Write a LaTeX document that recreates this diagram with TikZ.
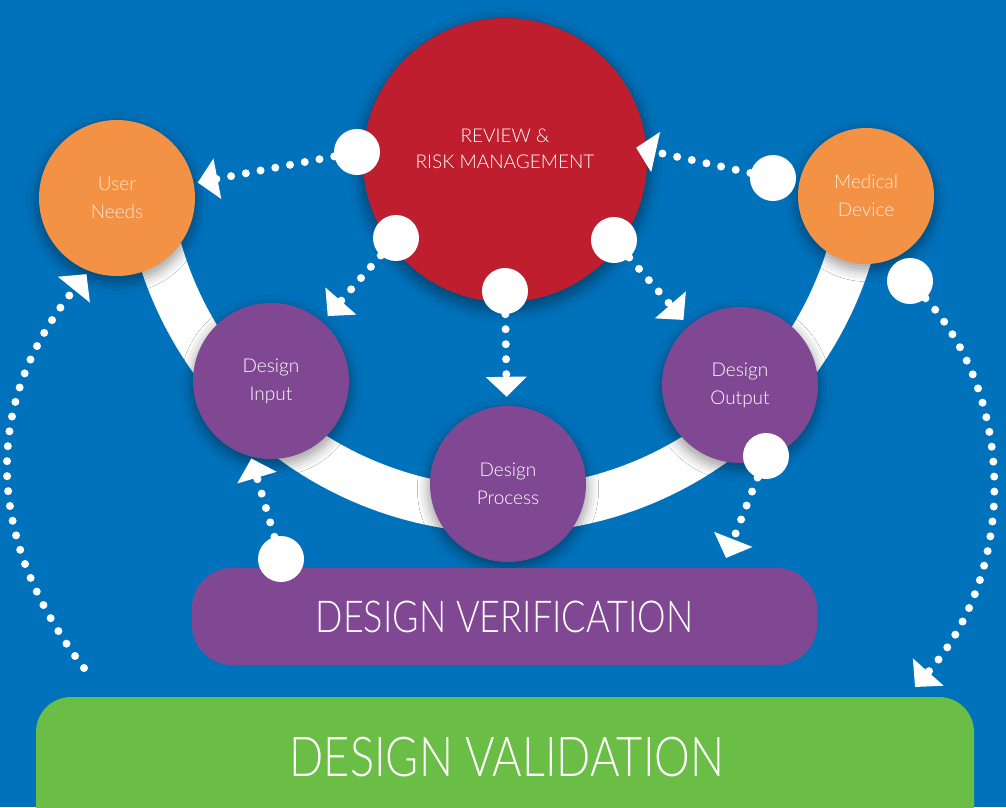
\documentclass[tikz,border=0pt]{standalone}
\usepackage{fontspec}
\setmainfont{Lato Light}
\newfontfamily\boxfont{Lato Light}[FakeStretch=0.82]
\usetikzlibrary{arrows.meta,shadows.blur}
\definecolor{BackClr}{RGB}{0,114,188}
\definecolor{ReviewClr}{RGB}{190,30,45}
\definecolor{NeedClr}{RGB}{243,146,69}
\definecolor{NeedTxt}{RGB}{253,232,214}
\definecolor{DesignClr}{RGB}{128,72,146}
\definecolor{ValidClr}{RGB}{106,189,69}

\begin{document}
\begin{tikzpicture}[x=1pt,y=-1pt,
  glow/.style={blur shadow={shadow xshift=0pt,shadow yshift=-5pt,shadow scale=1.03,
    shadow blur radius=10pt,shadow opacity=35}},
  ball/.style={circle,inner sep=0pt,align=center,glow,font=\fontsize{19}{28}\selectfont},
  knob/.style={circle,fill=white,minimum size=46pt,inner sep=0pt},
  dotarrow/.style={white,line width=8pt,line cap=round,dash pattern=on 0pt off 15pt,
    -{Triangle[length=20pt,width=40pt]}}]
\useasboundingbox (0,0) rectangle (1006,807);
\fill[BackClr] (0,0) rectangle (1006,807);

% white band under the design steps
\draw[white,line width=46pt] (505,150) ++(170:360) arc[start angle=170,end angle=10,radius=360];

% main circles
\node[ball,fill=ReviewClr,minimum size=284pt,
  label={[text=white,align=center,yshift=11pt,font=\fontsize{19}{26}\selectfont]center:REVIEW \&\\RISK MANAGEMENT}]
  (rv) at (505,160) {};
\node[ball,fill=NeedClr,minimum size=156pt,text=NeedTxt] (un) at (117,198) {User\\Needs};
\node[ball,fill=NeedClr,minimum size=136pt,text=NeedTxt] (md) at (866,196) {Medical\\Device};
\node[ball,fill=DesignClr,minimum size=156pt,text=white] (din) at (271,381) {Design\\Input};
\node[ball,fill=DesignClr,minimum size=156pt,text=white] (dpr) at (508,484) {Design\\Process};
\node[ball,fill=DesignClr,minimum size=156pt,text=white] (dout) at (740,385) {Design\\Output};

% boxes
\node[fill=DesignClr,rounded corners=40pt,minimum width=625pt,minimum height=97pt,text=white,
  font=\boxfont\fontsize{44}{50}\selectfont] (ver) at (504.5,616.5) {DESIGN VERIFICATION};
\fill[ValidClr,rounded corners=35pt] (36,860) |- (974,697) -- (974,860) -- cycle;
\node[text=white,font=\boxfont\fontsize{55}{60}\selectfont] (val) at (507,757) {DESIGN VALIDATION};

% knobs
\node[knob] (c1) at (357,152) {};
\node[knob] (c2) at (396,238) {};
\node[knob] (c3) at (505,291) {};
\node[knob] (c4) at (614,240) {};
\node[knob] (c5) at (773,178) {};
\node[knob] (c6) at (910,281) {};
\node[knob] (c7) at (766,456) {};
\node[knob] (c8) at (281,559) {};
\coordinate (s8) at (84,668);
\coordinate (t7) at (726,558);
\coordinate (t9) at (915,687);

% dotted arrows
\draw[dotarrow,shorten >=4pt] (c1) -- (un);
\draw[dotarrow,shorten >=-11pt] (c5) -- (rv.4);
\draw[dotarrow,shorten >=8pt] (c2) -- (din);
\draw[dotarrow,shorten >=9pt] (c3) -- (dpr);
\draw[dotarrow,shorten >=8pt] (c4) -- (dout);
\draw[dotarrow] (c7) -- (t7);
\draw[dotarrow,shorten >=2pt] (c8) -- (din.255);
\draw[dotarrow,shorten >=4pt] (s8) .. controls (-14,540) and (-20,406) .. (un.249);
\draw[dotarrow] (c6) .. controls (1017,400) and (1017,572) .. (t9);
\end{tikzpicture}
\end{document}
